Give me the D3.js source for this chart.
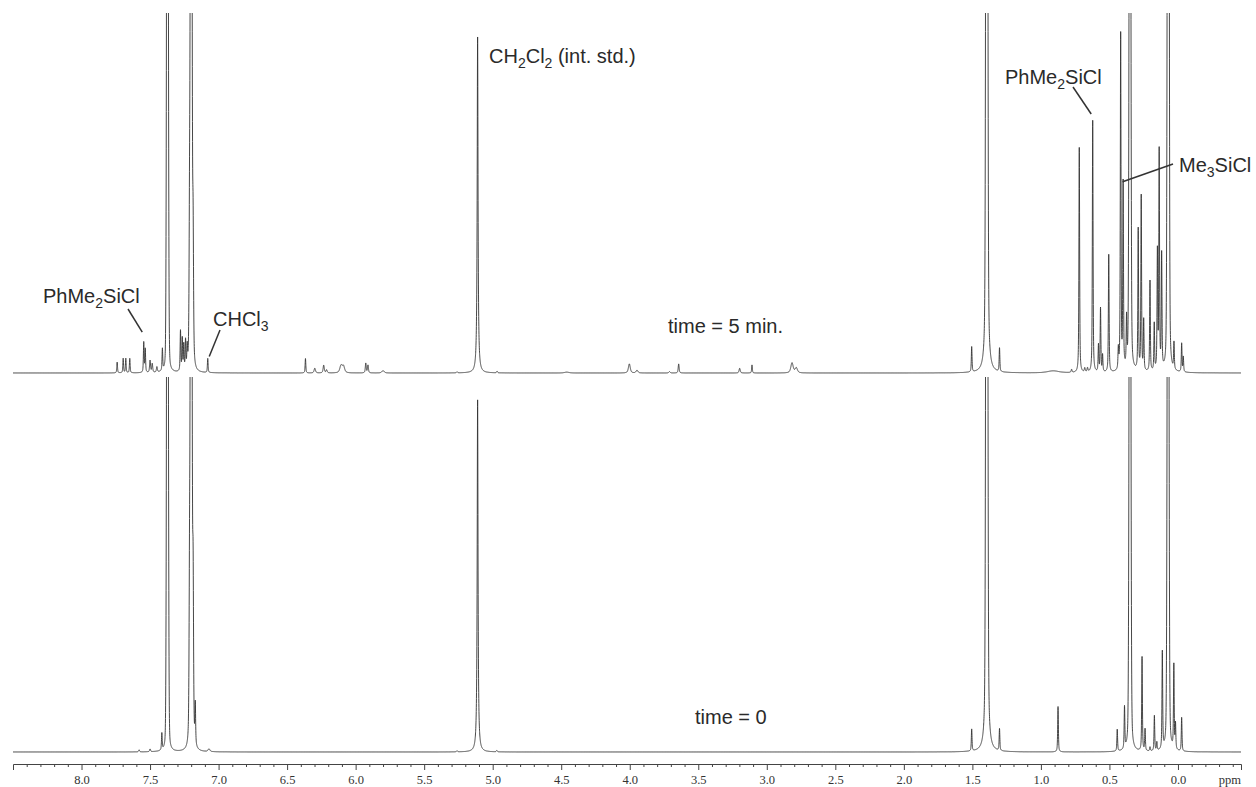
<!DOCTYPE html>
<html>
<head>
<meta charset="utf-8">
<script src="https://cdn.jsdelivr.net/npm/d3@7"></script>
<style>
  body { margin: 0; background: #fff; }
  svg { display: block; }
  .lbl { font-family: "Liberation Sans", Arial, sans-serif; font-size: 20px; fill: #2a2a2a; }
  .axis text { font-family: "Liberation Serif", "Times New Roman", serif; font-size: 12.5px; fill: #333; }
  .axis path, .axis line { stroke: #444; stroke-width: 1; }
  .trace { fill: none; stroke: #333; stroke-width: 0.9; }
  .leader { stroke: #333; stroke-width: 1.5; }
</style>
</head>
<body>
<svg id="nmr" width="1256" height="787"></svg>
<script>
// peaks: [ppm, intensity (CH2Cl2 in top trace = 100), half width (ppm), lorentz fraction]
const peaks5min = [
  [7.740, 3.2, 0.003, 0.6], [7.696, 4.3, 0.003, 0.6], [7.677, 4.3, 0.003, 0.6],
  [7.648, 4.3, 0.003, 0.6], [7.546, 9.0, 0.003, 0.6], [7.535, 7.0, 0.003, 0.6],
  [7.500, 3.6, 0.004, 0.6], [7.484, 2.6, 0.004, 0.6], [7.450, 1.6, 0.004, 0.6],
  [7.410, 6.5, 0.003, 0.6], [7.373, 300, 0.006, 0.12], [7.278, 12.0, 0.003, 0.6],
  [7.265, 9.5, 0.003, 0.6], [7.254, 7.5, 0.003, 0.6], [7.241, 8.5, 0.003, 0.6],
  [7.229, 6.0, 0.003, 0.6], [7.212, 40, 0.004, 0.6], [7.200, 300, 0.006, 0.12],
  [7.186, 40, 0.004, 0.6], [7.079, 4.2, 0.003, 0.6],
  [6.366, 4.3, 0.003, 0.6], [6.298, 1.4, 0.006, 0.6], [6.233, 2.3, 0.005, 0.6],
  [6.212, 0.9, 0.005, 0.6], [6.107, 2.1, 0.010, 0.6], [6.089, 2.0, 0.010, 0.6],
  [5.926, 2.9, 0.004, 0.6], [5.910, 2.3, 0.004, 0.6], [5.800, 0.7, 0.010, 0.6],
  [5.260, 0.3, 0.005, 0.6], [5.110, 100, 0.0036, 1.0], [4.968, 0.45, 0.004, 0.6],
  [4.460, 0.25, 0.020, 0.6], [4.003, 2.7, 0.008, 0.6], [3.947, 0.8, 0.008, 0.6],
  [3.710, 0.4, 0.006, 0.6], [3.643, 2.7, 0.004, 0.6], [3.198, 1.4, 0.005, 0.6],
  [3.108, 2.4, 0.003, 0.6], [2.816, 3.0, 0.010, 0.6], [2.785, 1.5, 0.010, 0.6],
  [1.505, 7.5, 0.003, 0.6], [1.395, 500, 0.006, 0.25], [1.302, 7.0, 0.003, 0.6],
  [0.910, 0.6, 0.050, 0.6], [0.776, 0.9, 0.004, 0.6], [0.720, 67, 0.003, 0.6],
  [0.680, 1.2, 0.004, 0.6], [0.660, 1.2, 0.004, 0.6], [0.622, 75, 0.003, 0.6],
  [0.580, 8.0, 0.003, 0.6], [0.565, 19, 0.003, 0.6], [0.550, 5.0, 0.003, 0.6],
  [0.505, 35, 0.003, 0.6], [0.435, 6.0, 0.003, 0.6], [0.418, 100, 0.003, 0.6],
  [0.400, 55, 0.003, 0.6], [0.375, 14, 0.003, 0.6], [0.350, 300, 0.006, 0.2],
  [0.290, 42, 0.003, 0.6], [0.268, 52, 0.003, 0.6], [0.250, 15, 0.003, 0.6],
  [0.204, 27, 0.003, 0.6], [0.173, 14, 0.003, 0.6], [0.150, 35, 0.003, 0.6],
  [0.137, 65, 0.003, 0.6], [0.119, 34, 0.003, 0.6], [0.072, 300, 0.006, 0.2],
  [0.064, 60, 0.003, 0.6], [0.029, 8.0, 0.003, 0.6], [-0.027, 8.5, 0.003, 0.6],
  [-0.039, 4.5, 0.003, 0.6]
];

const peaks0 = [
  [7.580, 0.6, 0.004, 0.6], [7.500, 0.8, 0.004, 0.6], [7.414, 5.0, 0.003, 0.6],
  [7.373, 300, 0.006, 0.12], [7.212, 45, 0.004, 0.6], [7.200, 300, 0.006, 0.12],
  [7.186, 50, 0.004, 0.6], [7.170, 12, 0.003, 0.6], [7.070, 0.8, 0.008, 0.6],
  [5.260, 0.3, 0.005, 0.6], [5.110, 104.8, 0.0036, 1.0], [4.970, 0.4, 0.004, 0.6],
  [1.505, 6.5, 0.003, 0.6], [1.395, 500, 0.006, 0.25], [1.302, 6.5, 0.003, 0.6],
  [0.875, 13.5, 0.003, 0.6], [0.443, 6.5, 0.003, 0.6], [0.390, 12.5, 0.003, 0.6],
  [0.350, 300, 0.006, 0.2], [0.262, 28, 0.003, 0.6], [0.240, 6.5, 0.003, 0.6],
  [0.204, 1.2, 0.003, 0.6], [0.172, 10.5, 0.003, 0.6], [0.154, 2.5, 0.003, 0.6],
  [0.114, 29, 0.003, 0.6], [0.072, 300, 0.006, 0.2], [0.030, 25, 0.003, 0.6],
  [0.018, 7.5, 0.003, 0.6], [-0.027, 10, 0.003, 0.6]
];

const majorTicks = [8.0, 7.5, 7.0, 6.5, 6.0, 5.5, 5.0, 4.5, 4.0, 3.5, 3.0, 2.5, 2.0, 1.5, 1.0, 0.5, 0.0];

// annotations: text (_n = subscript), text position, leader start and the peak it points at
const labels = [
  { text: "CH_2Cl_2 (int. std.)", x: 489, y: 63 },
  { text: "time = 5 min.", x: 668, y: 333 },
  { text: "time = 0", x: 695, y: 724 },
  { text: "PhMe_2SiCl", x: 43, y: 303, from: [128, 309], ppm: 7.546, val: 9.8, off: [-1.5, -8] },
  { text: "CHCl_3", x: 213, y: 326, from: [220, 330], ppm: 7.079, val: 4.3, off: [1.5, -2] },
  { text: "PhMe_2SiCl", x: 1005, y: 84, from: [1073, 87], ppm: 0.622, val: 75.6, off: [-1.5, -5] },
  { text: "Me_3SiCl", x: 1179, y: 172, from: [1173, 164], ppm: 0.400, val: 59, off: [-0.5, 7] }
];

const width = 1256, height = 787;
const svg = d3.select("#nmr");

// ppm axis runs right to left
const x = d3.scaleLinear().domain([8.5, -0.46]).range([13, 1241]);
const yTop = d3.scaleLinear().domain([0, 100]).range([373, 37]);
const yBot = d3.scaleLinear().domain([0, 100]).range([752, 416]);

// sum of pseudo-voigt lines on a fine ppm grid
const grid = d3.range(8.5, -0.4601, -0.0005);
function spectrum(peaks) {
  return grid.map(p => {
    let s = 0;
    for (const [c, h, w, eta] of peaks) {
      const u = (p - c) / w;
      s += h * (eta / (1 + u * u) + (1 - eta) * Math.exp(-Math.LN2 * u * u));
    }
    return [p, s];
  });
}

const defs = svg.append("defs");
defs.append("clipPath").attr("id", "clip-top")
  .append("rect").attr("x", 0).attr("y", 13).attr("width", width).attr("height", height - 13);
defs.append("clipPath").attr("id", "clip-bot")
  .append("rect").attr("x", 0).attr("y", 377).attr("width", width).attr("height", height - 377);

const lineTop = d3.line().x(d => x(d[0])).y(d => yTop(d[1]));
const lineBot = d3.line().x(d => x(d[0])).y(d => yBot(d[1]));

svg.append("path")
  .attr("class", "trace")
  .attr("clip-path", "url(#clip-top)")
  .attr("d", lineTop(spectrum(peaks5min)));

svg.append("path")
  .attr("class", "trace")
  .attr("clip-path", "url(#clip-bot)")
  .attr("d", lineBot(spectrum(peaks0)));

// x axis with minor ticks every 0.1 ppm
const axisY = 764;
const minorTicks = d3.range(85, -47, -1).map(d => d / 10).filter(d => Math.round(d * 10) % 5 !== 0);

svg.append("g")
  .attr("class", "axis")
  .attr("transform", `translate(0,${axisY})`)
  .call(d3.axisBottom(x).tickValues(majorTicks).tickFormat(d3.format(".1f")).tickSize(6).tickSizeOuter(6).tickPadding(5));

svg.append("g")
  .attr("class", "axis")
  .attr("transform", `translate(0,${axisY})`)
  .call(d3.axisBottom(x).tickValues(minorTicks).tickFormat("").tickSize(3))
  .call(g => g.select(".domain").remove());

svg.append("text")
  .attr("x", 1241)
  .attr("y", 784)
  .attr("text-anchor", "end")
  .style("font-family", '"Liberation Serif", "Times New Roman", serif')
  .style("font-size", "12.5px")
  .style("fill", "#333")
  .text("ppm");

// labels and leader lines
labels.forEach(l => {
  const t = svg.append("text").attr("class", "lbl").attr("x", l.x).attr("y", l.y);
  let shifted = false;
  l.text.split(/(_\d)/).filter(s => s.length).forEach(s => {
    if (s[0] === "_") {
      t.append("tspan").attr("dy", 5).style("font-size", "14px").text(s.slice(1));
      shifted = true;
    } else {
      t.append("tspan").attr("dy", shifted ? -5 : 0).text(s);
      shifted = false;
    }
  });
  if (l.from) {
    svg.append("line")
      .attr("class", "leader")
      .attr("x1", l.from[0])
      .attr("y1", l.from[1])
      .attr("x2", x(l.ppm) + l.off[0])
      .attr("y2", yTop(l.val) + l.off[1]);
  }
});
</script>
</body>
</html>
